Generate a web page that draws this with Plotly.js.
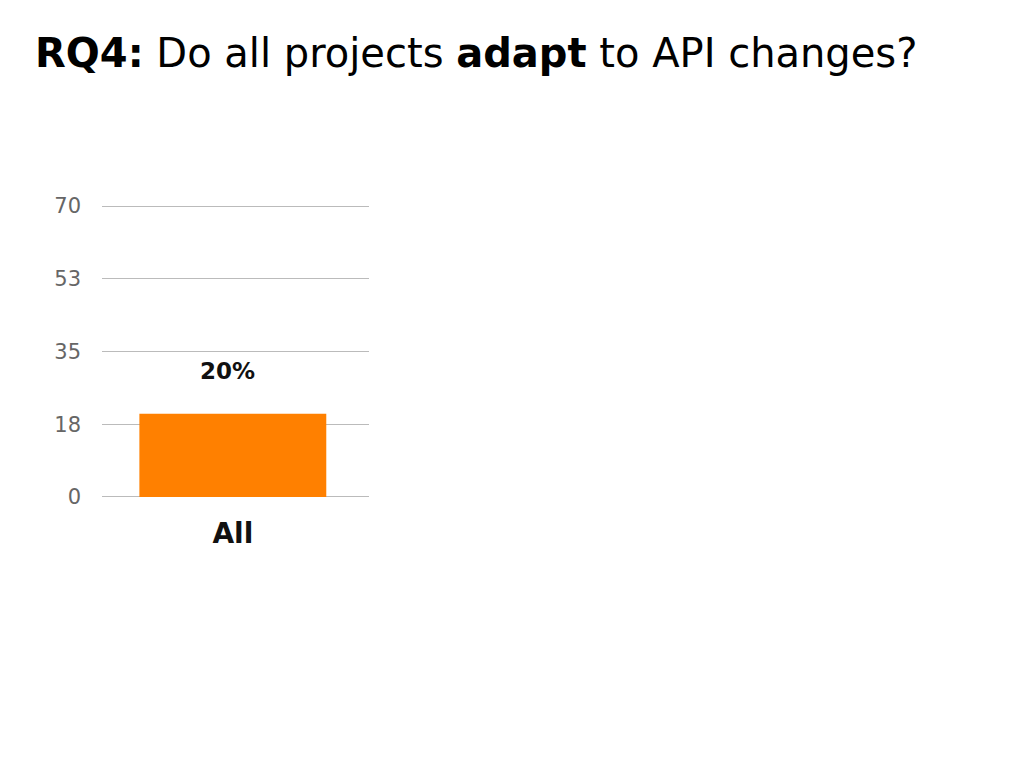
<!DOCTYPE html>
<html>
<head>
<meta charset="utf-8">
<script src="https://cdn.plot.ly/plotly-3.0.1.min.js"></script>
<style>html,body{margin:0;padding:0;background:#fff;}#chart{width:1024px;height:768px;}</style>
</head>
<body>
<div id="chart"></div>
<script>
const categories = ["All"];
const values = [20];
const valueLabels = ["20%"];
const tickVals = [0, 17.5, 35, 52.5, 70];
const tickText = ["0", "18", "35", "53", "70"];

const trace = {
  type: "bar",
  x: categories,
  y: values,
  marker: {color: "#FF8000"},
  hoverinfo: "skip"
};

const annotations = categories.map((c, i) => ({
  x: c, y: values[i], xref: "x", yref: "y",
  text: "<b>" + valueLabels[i] + "</b>",
  showarrow: false, yanchor: "bottom", yshift: 28, xshift: -5,
  font: {family: "DejaVu Sans", size: 23, color: "#111"}
}));

const layout = {
  width: 1024, height: 768,
  paper_bgcolor: "#fff", plot_bgcolor: "#fff",
  margin: {l: 102, r: 655, t: 205, b: 270, pad: 0},
  showlegend: false,
  bargap: 0.3,
  title: {
    text: "<b>RQ4:</b> Do all projects <b>adapt</b> to API changes?",
    xref: "container", yref: "container",
    x: 35/1024, xanchor: "left",
    y: 1 - 53/768, yanchor: "middle",
    font: {family: "DejaVu Sans", size: 40, color: "#000"}
  },
  xaxis: {
    range: [-0.49, 0.51], autorange: false,
    showgrid: false, zeroline: false, showline: false,
    ticks: "", ticklabelstandoff: 16,
    tickfont: {family: "DejaVu Sans", size: 28, color: "#111", weight: "bold"}
  },
  yaxis: {
    range: [-0.25, 70.25], autorange: false,
    tickvals: tickVals, ticktext: tickText,
    showgrid: true, gridcolor: "#BBBBBB", gridwidth: 1,
    zeroline: false, showline: false, ticks: "",
    ticklabelstandoff: 20,
    tickfont: {family: "DejaVu Sans", size: 21, color: "#666"}
  },
  annotations: annotations
};

Plotly.newPlot("chart", [trace], layout, {displayModeBar: false, staticPlot: true});
</script>
</body>
</html>
